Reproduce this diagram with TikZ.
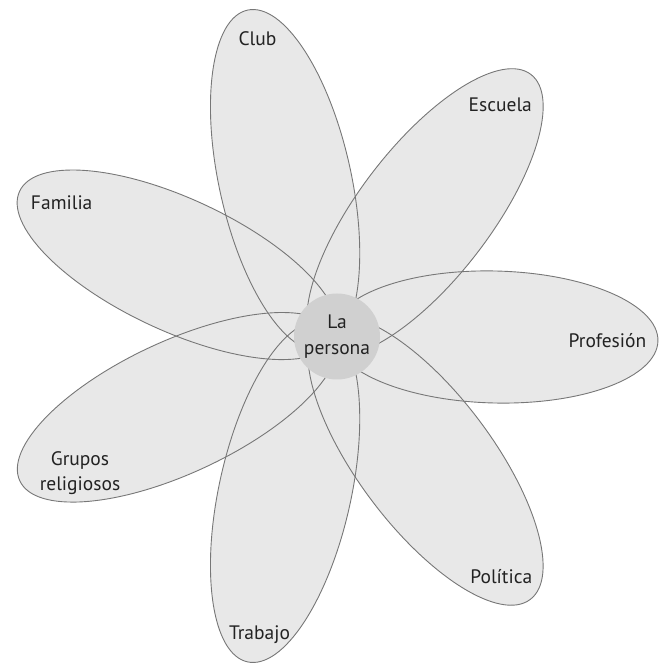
\documentclass[tikz,border=0pt]{standalone}
\usepackage{fontspec}
\setmainfont{PT Sans}
\definecolor{petalfill}{HTML}{E8E8E8}
\definecolor{petalline}{HTML}{777777}
\definecolor{hubfill}{HTML}{D0D0D0}
\definecolor{labeltext}{HTML}{222222}
\tikzset{
  petalarea/.style={fill=petalfill},
  petaledge/.style={draw=petalline, line width=0.9pt},
  hub/.style={circle, fill=hubfill, minimum size=86pt, inner sep=0pt, align=center,
    font=\fontsize{19.5}{25.5}\selectfont, text=labeltext},
  lbl/.style={anchor=base, font=\fontsize{19.5}{24.5}\selectfont, text=labeltext, align=center}
}
\begin{document}
\begin{tikzpicture}[x=1pt,y=1pt]
\useasboundingbox (0,0) rectangle (663,665);
% petals: centre x, centre y, rotation, semi-major, semi-minor
\def\petals{285.1/485/102.5/174/66, 425/452.5/52.5/174/66, 495/328/-1.4/163/66,
  425.5/204.5/-53/174/67, 285.1/173/-102.5/174/66, 177.5/257.7/205/174/66,
  177.3/400.2/155/174/66}
\foreach \cx/\cy/\r/\a/\b in \petals {
  \fill[petalarea, rotate around={\r:(\cx,\cy)}] (\cx,\cy) ellipse [x radius=\a pt, y radius=\b pt];
}
\foreach \cx/\cy/\r/\a/\b in \petals {
  \draw[petaledge, rotate around={\r:(\cx,\cy)}] (\cx,\cy) ellipse [x radius=\a pt, y radius=\b pt];
}
\node[hub] (persona) at (337,328.5) {La\\persona};
\node[lbl] (club) at (257.5,619) {Club};
\node[lbl] (escuela) at (500.3,553.3) {Escuela};
\node[lbl] (familia) at (61.7,455) {Familia};
\node[lbl] (profesion) at (607.5,317.3) {Profesión};
\node[lbl] (politica) at (501.3,81.7) {Política};
\node[lbl] (trabajo) at (259.5,25.7) {Trabajo};
\node[lbl, anchor=center] (grupos) at (80,192) {Grupos\\religiosos};
\end{tikzpicture}
\end{document}
